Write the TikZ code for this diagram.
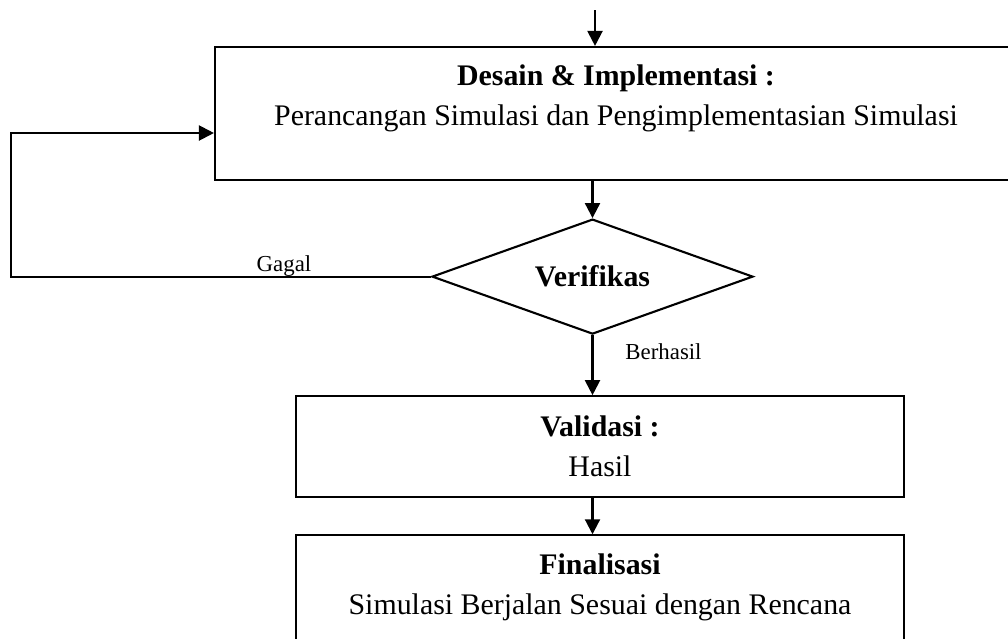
\documentclass[tikz,border=0pt]{standalone}
\usepackage{fontspec}
\setmainfont{Liberation Serif}
\usetikzlibrary{arrows.meta}
\usetikzlibrary{positioning}
\usetikzlibrary{shapes.geometric}

\begin{document}
\begin{tikzpicture}[
			state/.style={rectangle, draw=black, line width=1.2pt, text centered, align=center, font=\fontsize{17}{22.8}\selectfont},
			decision/.style={diamond, aspect=2.8, draw=black, line width=1.2pt, minimum width=6.42cm, minimum height=2.3cm, inner sep=0pt, font=\fontsize{17}{22.8}\selectfont\bfseries},
			flow/.style={arrows=-{Triangle[length=3mm,width=3mm]}, line width=1.2pt},
			tag/.style={font=\fontsize{13}{15}\selectfont, inner sep=0.5pt},
			]
			
			\useasboundingbox (0,0) rectangle (20.16,-12.76);
			
			\node[state, minimum width=16.04cm, minimum height=2.66cm] (desain) at (12.32,-2.27)         {\textbf{Desain \& Implementasi :}\\ Perancangan Simulasi dan Pengimplementasian Simulasi\\[-3mm] \strut};
			\node[decision]      (verif) [below=0.74cm of desain, xshift=-0.47cm]                       {Verifikas};
			\node[state, minimum width=12.16cm, minimum height=2.02cm] (valid) [below=1.2cm of verif, xshift=0.15cm] {\textbf{Validasi :}\\ Hasil};
			\node[state, minimum width=12.16cm, minimum height=2.7cm] (final) [below=0.72cm of valid]    {\textbf{Finalisasi}\\ Simulasi Berjalan Sesuai dengan Rencana\\[-3mm] \strut};
			
			\coordinate (start) at (11.9,-0.2);
			\coordinate (loop) at (0.22,-2.66);
			
			\draw [flow] (start)                     -- (start |- desain.north);
			\draw [flow] (verif.north |- desain.south) -- (verif.north);
			\draw [flow] (verif.west) --node[tag, pos=0.35, above=-1pt] {Gagal} (verif.west -| loop) -- (loop) -- (loop -| desain.west);
			\draw [flow] (verif.south)               --node[tag, pos=0.27, right, xshift=0.62cm] {Berhasil} (verif.south |- valid.north);
			\draw [flow] (verif.south |- valid.south) -- (verif.south |- final.north);
			
			\end{tikzpicture}
\end{document}
